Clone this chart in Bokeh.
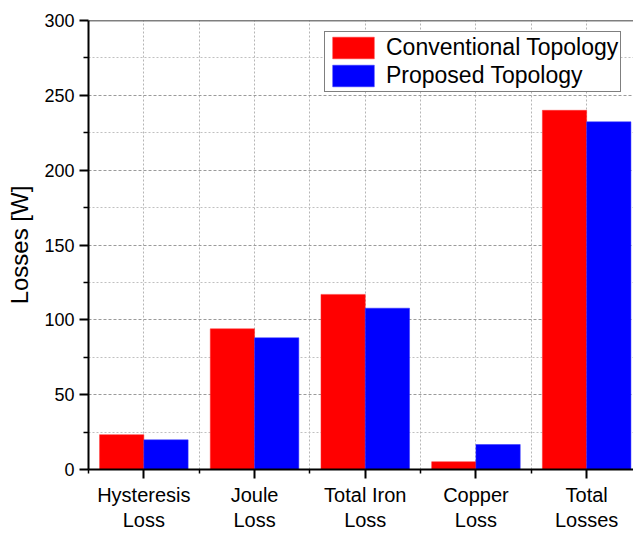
from bokeh.plotting import figure
from bokeh.models import Range1d, FixedTicker, Span, Legend, LegendItem, ColumnDataSource
from bokeh.embed import file_html
from bokeh.resources import INLINE

categories = ["Hysteresis\nLoss", "Joule\nLoss", "Total Iron\nLoss", "Copper\nLoss", "Total\nLosses"]
conventional = [23.3, 94.0, 117.0, 5.2, 240.0]
proposed = [19.8, 88.0, 107.8, 16.7, 232.3]
series_names = ["Conventional Topology", "Proposed Topology"]
y_ticks = [0, 50, 100, 150, 200, 250, 300]

FONT = "Liberation Sans"
positions = list(range(1, len(categories) + 1))
bw = 0.4

src = ColumnDataSource(dict(
    xc=[x - bw / 2 for x in positions],
    xp=[x + bw / 2 for x in positions],
    conv=conventional,
    prop=proposed,
))

p = figure(frame_width=545, frame_height=449,
           x_range=Range1d(0.5, 0.5 + 545 / 110.7), y_range=Range1d(0, 300),
           output_backend="svg", toolbar_location=None,
           min_border_left=88, min_border_top=20, min_border_right=0, min_border_bottom=0)
p.outline_line_color = None
p.background_fill_color = "white"

r1 = p.vbar(x="xc", top="conv", width=bw, source=src, fill_color="#FF0000", line_color="#FF3030", line_width=0.5)
r2 = p.vbar(x="xp", top="prop", width=bw, source=src, fill_color="#0000FF", line_color="#3030FF", line_width=0.5)

minor_x = [x - 0.5 for x in positions] + [positions[-1] + 0.5]
p.xaxis.ticker = FixedTicker(ticks=positions, minor_ticks=minor_x)
p.xaxis.major_label_overrides = {x: c for x, c in zip(positions, categories)}
y_minor = [(a + b) / 2 for a, b in zip(y_ticks, y_ticks[1:])]
p.yaxis.ticker = FixedTicker(ticks=y_ticks, minor_ticks=y_minor)

for ax in (p.xaxis[0], p.yaxis[0]):
    ax.axis_line_width = 2
    ax.axis_line_color = "black"
    ax.major_tick_line_width = 2
    ax.minor_tick_line_width = 1.5
    ax.major_tick_in = 0
    ax.minor_tick_in = 0
    ax.major_tick_out = 9
    ax.major_label_text_font = FONT
    ax.major_label_text_color = "black"

p.xaxis.minor_tick_out = 4
p.yaxis.minor_tick_out = 5
p.xaxis.major_label_text_font_size = "20px"
p.xaxis.major_label_text_line_height = 1.15
p.xaxis.major_label_standoff = 5
p.yaxis.major_label_text_font_size = "18px"
p.yaxis.major_label_standoff = 5
p.yaxis.axis_label = "Losses [W]"
p.yaxis.axis_label_text_font = FONT
p.yaxis.axis_label_text_font_size = "24px"
p.yaxis.axis_label_text_font_style = "normal"
p.yaxis.axis_label_text_color = "black"
p.yaxis.axis_label_standoff = 8

p.xgrid.grid_line_color = "#b5b5b5"
p.xgrid.grid_line_dash = "2 2"
p.xgrid.minor_grid_line_color = "#b5b5b5"
p.xgrid.minor_grid_line_dash = "2 2"
p.ygrid.grid_line_color = "#9a9a9a"
p.ygrid.grid_line_dash = "3 2"
p.ygrid.minor_grid_line_color = "#c0c0c0"
p.ygrid.minor_grid_line_dash = "2 2"

p.add_layout(Span(location=300, dimension="width", line_color="black", line_width=1.5))

legend = Legend(items=[LegendItem(label=series_names[0], renderers=[r1]),
                       LegendItem(label=series_names[1], renderers=[r2])],
                location=(236, 377))
legend.label_text_font = FONT
legend.label_text_font_size = "23px"
legend.label_text_color = "black"
legend.glyph_width = 52
legend.glyph_height = 27
legend.label_height = 27
legend.spacing = 1
legend.padding = 2
legend.margin = 0
legend.label_standoff = 7
legend.border_line_color = "black"
legend.border_line_width = 1
legend.background_fill_alpha = 1
p.add_layout(legend)

open("out.html", "w").write(file_html(p, INLINE))
